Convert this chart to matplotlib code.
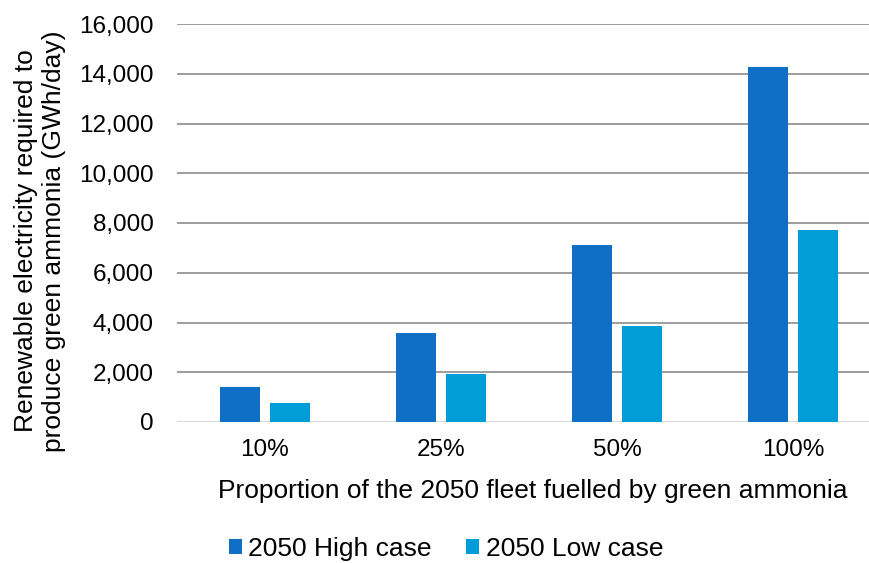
import matplotlib
matplotlib.use("Agg")
import matplotlib.pyplot as plt
import numpy as np
from matplotlib.ticker import FuncFormatter

categories = ["10%", "25%", "50%", "100%"]
high_case = [1425, 3563, 7127, 14254]
low_case = [772, 1935, 3870, 7718]
series_names = ["2050 High case", "2050 Low case"]
yticks = [0, 2000, 4000, 6000, 8000, 10000, 12000, 14000, 16000]

plt.rcParams['font.family'] = ['Liberation Sans', 'DejaVu Sans']
W, H = 870, 563
fig = plt.figure(figsize=(W/100, H/100), dpi=100)
left, right, bottom, top = 177/W, 870/W, 1-422/H, 1-24/H
ax = fig.add_axes([left, bottom, right-left, top-bottom])

x = np.arange(len(categories))
bw = 40/176
gap = 10/176
off = (bw + gap)/2
c_high = "#0F6FC6"
c_low = "#009DD9"
ax.bar(x - off, high_case, width=bw, color=c_high, label=series_names[0], zorder=3)
ax.bar(x + off, low_case, width=bw, color=c_low, label=series_names[1], zorder=3)

ax.set_xlim(-0.5, 3.5 - 11/176)
ax.set_ylim(0, 16000)
ax.set_yticks(yticks)
ax.yaxis.set_major_formatter(FuncFormatter(lambda v, p: f"{int(v):,}"))
ax.set_xticks(x)
ax.set_xticklabels(categories)
ax.tick_params(axis='both', length=0, colors='black', labelsize=17.5)
ax.tick_params(axis='y', pad=17)
ax.tick_params(axis='x', pad=12)
for s in ax.spines.values():
    s.set_visible(False)
ax.grid(axis='y', color='#8c8c8c', linewidth=1.2, zorder=0)
ax.set_axisbelow(True)
ax.axhline(0, color='#d9d9d9', linewidth=1.5, zorder=2)
gl = ax.get_ygridlines()
gl[0].set_visible(False)

fig.text(40/W, 1-241/H, "Renewable electricity required to\nproduce green ammonia (GWh/day)",
         rotation=90, ha='center', va='center', multialignment='center', fontsize=19)
fig.text(533/W, 1-491/H, "Proportion of the 2050 fleet fuelled by green ammonia",
         ha='center', va='center', fontsize=19)

fig.legend(loc='center', bbox_to_anchor=(446/W, 1-549/H), ncol=2, frameon=False,
           fontsize=19, handlelength=0.5, handleheight=0.5, handletextpad=0.25,
           columnspacing=1.3, borderaxespad=0, borderpad=0)

fig.savefig("out.png", dpi=100)
